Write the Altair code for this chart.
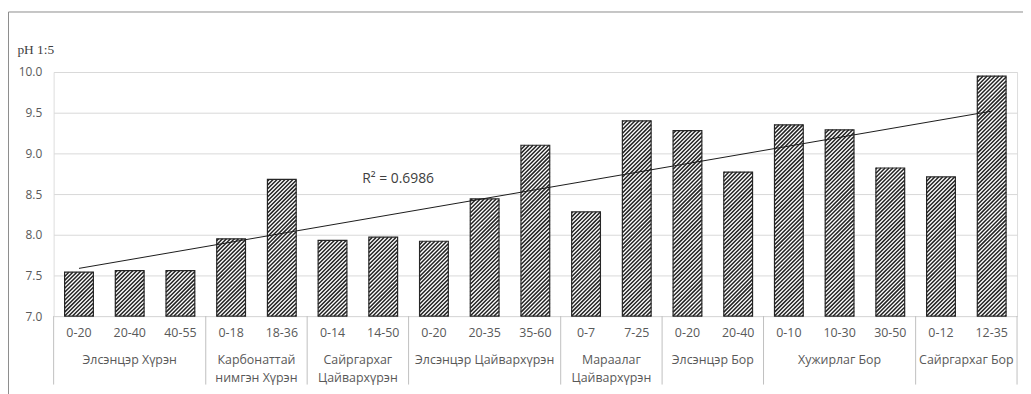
import altair as alt
import pandas as pd

# ---------------- data ----------------
depths = ["0-20", "20-40", "40-55", "0-18", "18-36", "0-14", "14-50",
          "0-20", "20-35", "35-60", "0-7", "7-25", "0-20", "20-40",
          "0-10", "10-30", "30-50", "0-12", "12-35"]
ph_values = [7.54, 7.56, 7.56, 7.95, 8.68, 7.93, 7.97, 7.92, 8.44, 9.10,
             8.28, 9.40, 9.28, 8.77, 9.35, 9.29, 8.82, 8.71, 9.95]
group_names = ["Элсэнцэр Хүрэн", "Карбонаттай\nнимгэн Хүрэн",
               "Сайргархаг\nЦайвархүрэн", "Элсэнцэр Цайвархүрэн",
               "Мараалаг\nЦайвархүрэн", "Элсэнцэр Бор", "Хужирлаг Бор",
               "Сайргархаг Бор"]
group_sizes = [3, 2, 2, 3, 2, 2, 3, 2]
y_ticks = [7.0, 7.5, 8.0, 8.5, 9.0, 9.5, 10.0]
r2_label = "R² = 0.6986"
y_title = "pH 1:5"

# ---------------- layout constants ----------------
PLOT_W, PLOT_H = 971, 246
N = len(depths)
X_DOM = [0.5, N + 0.5]
Y_DOM = [7.0, 10.0]
SX = PLOT_W / N                 # px per category
SY = PLOT_H / (Y_DOM[1] - Y_DOM[0])  # px per pH unit
BAR_PX = 29.0
HW = BAR_PX / 2 / SX            # half bar width in index units
PERIOD = 4.0                    # hatch period (px, horizontal)

FONT = "Open Sans"
LABEL_COLOR = "#595959"
EDGE = "#262626"

df = pd.DataFrame({"idx": list(range(1, N + 1)), "ph": ph_values, "depth": depths})
df["x0"] = df["idx"] - HW
df["x1"] = df["idx"] + HW

centers, bounds = [], [0.5]
s = 1
for n in group_sizes:
    centers.append(s + (n - 1) / 2)
    s += n
    bounds.append(s - 0.5)
gdf = pd.DataFrame({"name": group_names, "center": centers})
bdf = pd.DataFrame({"b": bounds})

xs = alt.Scale(domain=X_DOM, nice=False, zero=False)
ys = alt.Scale(domain=Y_DOM, nice=False, zero=False)
y_axis = alt.Axis(values=y_ticks, format=".1f", grid=True, gridColor="#d9d9d9",
                  gridWidth=1, domain=False, ticks=False, labelPadding=12,
                  labelFont=FONT, labelFontSize=12, labelColor=LABEL_COLOR,
                  title=y_title, titleAngle=0, titleX=-37, titleY=-19,
                  titleAlign="left", titleBaseline="alphabetic",
                  titleFont="Liberation Serif", titleFontSize=13.5,
                  titleFontWeight="normal", titleColor="#404040")

base = alt.Chart(df)

bars = base.mark_rect(fill="white").encode(
    x=alt.X("x0:Q", scale=xs, axis=None),
    x2="x1:Q",
    y=alt.Y("ph:Q", scale=ys, axis=y_axis),
    y2=alt.datum(7.0),
)

hatch = base.transform_calculate(
    H=f"(datum.ph - {Y_DOM[0]}) * {SY}",
).transform_calculate(
    ks=f"sequence(-ceil({BAR_PX}/{PERIOD}), ceil(datum.H/{PERIOD}) + 1)"
).transform_flatten(["ks"]).transform_calculate(
    c=f"datum.ks * {PERIOD}"
).transform_calculate(
    p0="max(0, -datum.c)",
    p1=f"min({BAR_PX}, datum.H - datum.c)",
).transform_filter("datum.p1 > datum.p0").transform_calculate(
    hx1=f"datum.x0 + datum.p0 / {SX}",
    hx2=f"datum.x0 + datum.p1 / {SX}",
    hy1=f"{Y_DOM[0]} + (datum.p0 + datum.c) / {SY}",
    hy2=f"{Y_DOM[0]} + (datum.p1 + datum.c) / {SY}",
).mark_rule(color="#222222", strokeWidth=1.5).encode(
    x=alt.X("hx1:Q", scale=xs, axis=None),
    x2="hx2:Q",
    y=alt.Y("hy1:Q", scale=ys, axis=y_axis),
    y2="hy2:Q",
)

outline = base.mark_rect(fillOpacity=0, stroke=EDGE, strokeWidth=1.2).encode(
    x=alt.X("x0:Q", scale=xs, axis=None),
    x2="x1:Q",
    y=alt.Y("ph:Q", scale=ys, axis=y_axis),
    y2=alt.datum(7.0),
)

trend = base.transform_regression("idx", "ph", extent=[1, N]).mark_line(
    color="#1a1a1a", strokeWidth=1
).encode(
    x=alt.X("idx:Q", scale=xs, axis=None),
    y=alt.Y("ph:Q", scale=ys, axis=y_axis),
)

r2 = alt.Chart(pd.DataFrame({"t": [r2_label]})).mark_text(
    font=FONT, fontSize=14, color="#404040", align="left", baseline="middle"
).encode(text="t:N", x=alt.value(311), y=alt.value(108))

seps = alt.Chart(bdf).mark_rule(color="#bfbfbf", strokeWidth=1).encode(
    x=alt.X("b:Q", scale=xs, axis=None),
    y=alt.value(PLOT_H),
    y2=alt.value(PLOT_H + 69),
)

depth_text = base.mark_text(font=FONT, fontSize=12.5, color=LABEL_COLOR,
                            baseline="middle").encode(
    x=alt.X("idx:Q", scale=xs, axis=None),
    y=alt.value(PLOT_H + 17.5),
    text="depth:N",
)

group_text = alt.Chart(gdf).mark_text(font=FONT, fontSize=12.5, color=LABEL_COLOR,
                                      baseline="top", lineBreak="\n",
                                      lineHeight=18).encode(
    x=alt.X("center:Q", scale=xs, axis=None),
    y=alt.value(PLOT_H + 38),
    text="name:N",
)

one = pd.DataFrame({"a": [0]})
frame_top = alt.Chart(one).mark_rule(color="#8c8c8c", strokeWidth=1).encode(
    x=alt.value(-45.5), x2=alt.value(PLOT_W + 6), y=alt.value(-60.5)
)
frame_left = alt.Chart(one).mark_rule(color="#8c8c8c", strokeWidth=1).encode(
    x=alt.value(-45.5), y=alt.value(-60.5), y2=alt.value(PLOT_H + 80)
)

chart = alt.layer(
    bars, hatch, outline, trend, r2, seps, depth_text, group_text,
    frame_top, frame_left
).properties(
    width=PLOT_W, height=PLOT_H,
    padding={"left": 46, "top": 63, "right": 6, "bottom": 77},
    autosize=alt.AutoSizeParams(type="none"),
).configure_view(stroke=None).configure(background="white")

chart.save("out.html", embed_options={"renderer": "svg", "actions": False})
